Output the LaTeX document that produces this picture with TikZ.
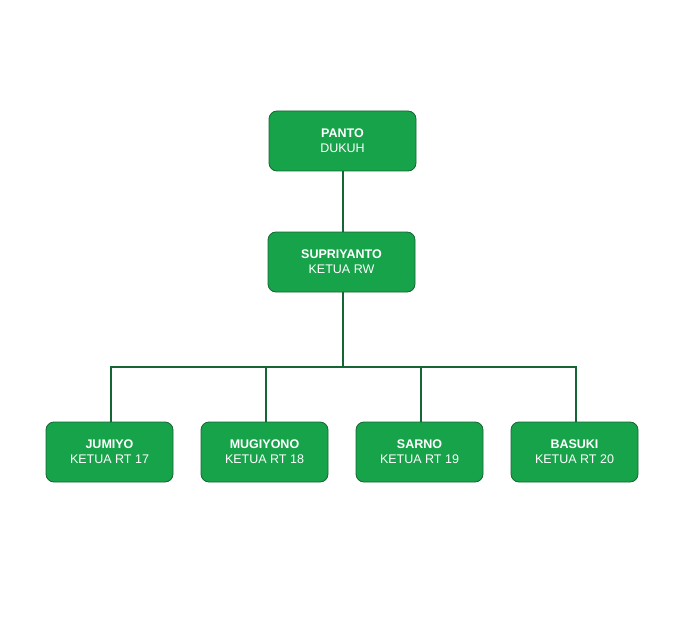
\documentclass[tikz,border=0pt]{standalone}
\usepackage{fontspec}
\setmainfont{Liberation Sans}
\definecolor{boxfill}{HTML}{17A34A}
\definecolor{boxline}{HTML}{166534}
\begin{document}
\begin{tikzpicture}[x=1pt,y=-1pt,
  card/.style={draw=boxline, line width=0.8pt, fill=boxfill, rounded corners=8pt, text=white, align=center, font=\fontsize{12.5}{15}\selectfont, inner sep=0pt, minimum height=60pt},
  link/.style={draw=boxline, line width=2pt}]
\useasboundingbox (0,0) rectangle (684,628);
\node[card, minimum width=147pt] (panto) at (342.5,141) {\textbf{PANTO}\\DUKUH};
\node[card, minimum width=147pt] (supri) at (341.5,262) {\textbf{SUPRIYANTO}\\KETUA RW};
\node[card, minimum width=127pt] (jumiyo) at (109.5,452) {\textbf{JUMIYO}\\KETUA RT 17};
\node[card, minimum width=127pt] (mugi) at (264.5,452) {\textbf{MUGIYONO}\\KETUA RT 18};
\node[card, minimum width=127pt] (sarno) at (419.5,452) {\textbf{SARNO}\\KETUA RT 19};
\node[card, minimum width=127pt] (basuki) at (574.5,452) {\textbf{BASUKI}\\KETUA RT 20};
\coordinate (bus) at (342.5,367);
\coordinate (busL) at (111,367);
\coordinate (busM1) at (266,367);
\coordinate (busM2) at (421,367);
\coordinate (busR) at (576,367);
\draw[link] (342.5,171) -- (342.5,232);
\draw[link] (342.5,292) -- (bus);
\draw[link] (busL |- jumiyo.north) -- (busL) -- (busR) -- (busR |- basuki.north);
\draw[link] (busM1 |- mugi.north) -- (busM1);
\draw[link] (busM2 |- sarno.north) -- (busM2);
\end{tikzpicture}
\end{document}
